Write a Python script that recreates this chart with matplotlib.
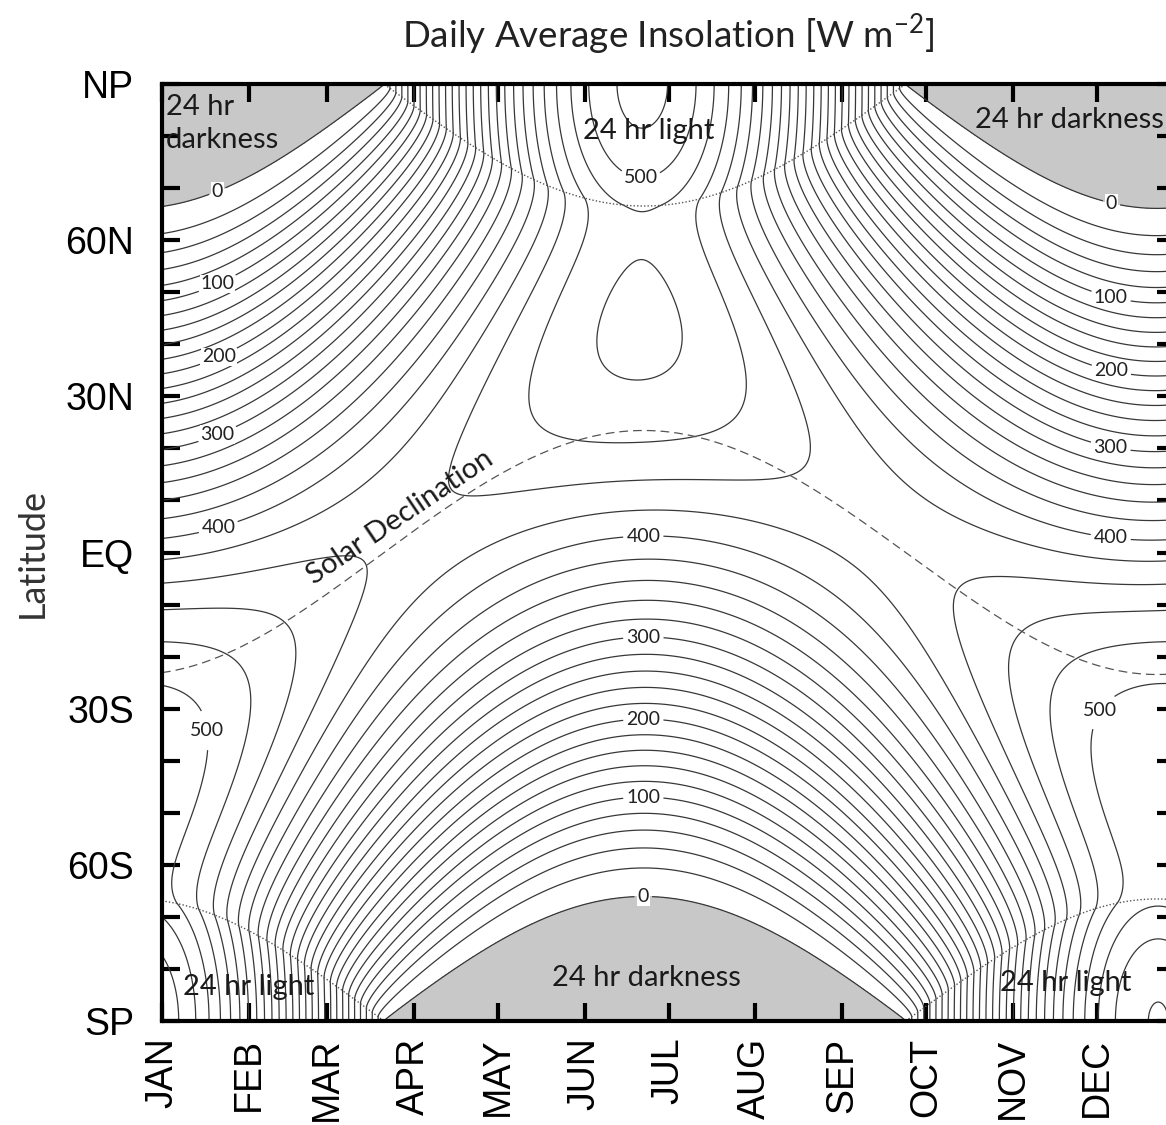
import numpy as np
import matplotlib
matplotlib.use("Agg")
import matplotlib.pyplot as plt

plt.rcParams['font.family'] = ['Lato', 'DejaVu Sans']

# present-day orbital parameters
solar_const = 1365.0      # W m-2
obliquity = 23.44         # deg
eccentricity = 0.0167
perihelion_long = 282.9   # longitude of perihelion from vernal equinox, deg
perihelion_day = 3        # day of year of perihelion
year_len = 365.25

months = ["JAN", "FEB", "MAR", "APR", "MAY", "JUN",
          "JUL", "AUG", "SEP", "OCT", "NOV", "DEC"]
month_start = [0, 31, 59, 90, 120, 151, 181, 212, 243, 273, 304, 334]
lat_ticks = [-90, -60, -30, 0, 30, 60, 90]
lat_labels = ["SP", "60S", "30S", "EQ", "30N", "60N", "NP"]
levels = np.arange(0, 561, 20)
label_levels = [0, 100, 200, 300, 400, 500]


def insolation(days, lats):
    """Daily mean top-of-atmosphere insolation, plus declination (deg)."""
    e = eccentricity
    M = 2 * np.pi * (days - perihelion_day) / year_len
    nu = M + 2 * e * np.sin(M) + 1.25 * e ** 2 * np.sin(2 * M)
    lam = nu + np.radians(perihelion_long)
    dec = np.arcsin(np.sin(np.radians(obliquity)) * np.sin(lam))
    dist2 = ((1 + e * np.cos(nu)) / (1 - e ** 2)) ** 2
    D, P = np.meshgrid(dec, np.radians(lats))
    F = np.meshgrid(dist2, lats)[0]
    cos_h0 = np.clip(-np.tan(P) * np.tan(D), -1, 1)
    h0 = np.arccos(cos_h0)
    Q = solar_const / np.pi * F * (h0 * np.sin(P) * np.sin(D)
                                   + np.cos(P) * np.cos(D) * np.sin(h0))
    return Q, np.degrees(dec)


days = np.linspace(0, 365, 1461)
lats = np.linspace(-90, 90, 901)
Q, dec = insolation(days, lats)

fig = plt.figure(figsize=(11.66, 11.25), dpi=100)
ax = fig.add_axes([162 / 1166, 1 - 1021 / 1125, (1175 - 162) / 1166, 937 / 1125])

# polar night
ax.contourf(days, lats, Q, levels=[-1, 0.5], colors=['#c8c8c8'])

# the zero line sits just above 0 so it traces the edge of polar night
draw_levels = np.where(levels == 0, 0.5, levels).astype(float)
is_labelled = np.isin(levels, label_levels)
line_kw = dict(colors='#383838', linewidths=0.9)
ax.contour(days, lats, Q, levels=draw_levels[~is_labelled], **line_kw)
cs = ax.contour(days, lats, Q, levels=draw_levels[is_labelled], **line_kw)

fmt = {lv: '%d' % round(lv) for lv in cs.levels}
fmt[0.5] = '0'
label_pos = [(20, 69.1), (20, 51.4), (20, 37.9), (20, 22.4), (20, 5.1),
             (16.5, -34.1),
             (339, 66.4), (339, 48.9), (339, 34.5), (339, 20.3), (339, 2.8),
             (334, -29.9),
             (172, -66.4), (172, -47.0), (172, -32.2), (172, -16.0), (172, 3.2),
             (171, 71.6)]
clabels = ax.clabel(cs, fmt=fmt, fontsize=14, inline=True,
                    inline_spacing=3, manual=label_pos)
for t in clabels:
    t.set_bbox(dict(fc='white', ec='none', pad=0.5))
    t.set_rotation(0)
    t.set_color('#222222')

# solar declination
ax.plot(days, dec, color='#555555', lw=0.9, ls=(0, (7, 4)))

# edge of 24 hr daylight
north_edge = np.where(dec > 0, 90 - dec, np.nan)
south_edge = np.where(dec < 0, -90 - dec, np.nan)
ax.plot(days, north_edge, color='#555555', lw=1.0, ls=(0, (1, 1.5)))
ax.plot(days, south_edge, color='#555555', lw=1.0, ls=(0, (1, 1.5)))

txt = dict(fontsize=21, color='#1a1a1a')
ax.text(1.5, 88.0, "24 hr\ndarkness", ha='left', va='top', linespacing=1.3, **txt)
ax.text(174, 81.0, "24 hr light", ha='center', va='center', **txt)
ax.text(290.5, 83.1, "24 hr darkness", ha='left', va='center', **txt)
ax.text(31, -83.5, "24 hr light", ha='center', va='center', **txt)
ax.text(173, -81.7, "24 hr darkness", ha='center', va='center', **txt)
ax.text(323, -82.7, "24 hr light", ha='center', va='center', **txt)
ax.text(85, 6.8, "Solar Declination", ha='center', va='center',
        rotation=34, fontsize=21, color='#1a1a1a')

ax.set_xlim(0, 362)
ax.set_ylim(-90, 90)
ax.set_xticks(month_start)
ax.set_xticklabels(months, rotation=90, fontsize=27, family='Liberation Sans')
ax.set_yticks(lat_ticks)
ax.set_yticklabels(lat_labels, fontsize=27, family='Liberation Sans')
ax.set_yticks(np.arange(-90, 91, 10), minor=True)
ax.tick_params(which='both', direction='in', length=13, width=3,
               top=True, right=True, color='black')
ax.tick_params(axis='x', pad=12)
ax.tick_params(axis='y', pad=20)
for sp in ax.spines.values():
    sp.set_linewidth(3)

ax.set_ylabel("Latitude", fontsize=26, labelpad=12, color='#333333')
fig.text(668 / 1166, 1 - 35 / 1125, r"Daily Average Insolation [W m$^{\mathregular{-2}}$]",
         ha='center', va='center', fontsize=26.5, color='#222222')

fig.savefig("out.png", dpi=100)
